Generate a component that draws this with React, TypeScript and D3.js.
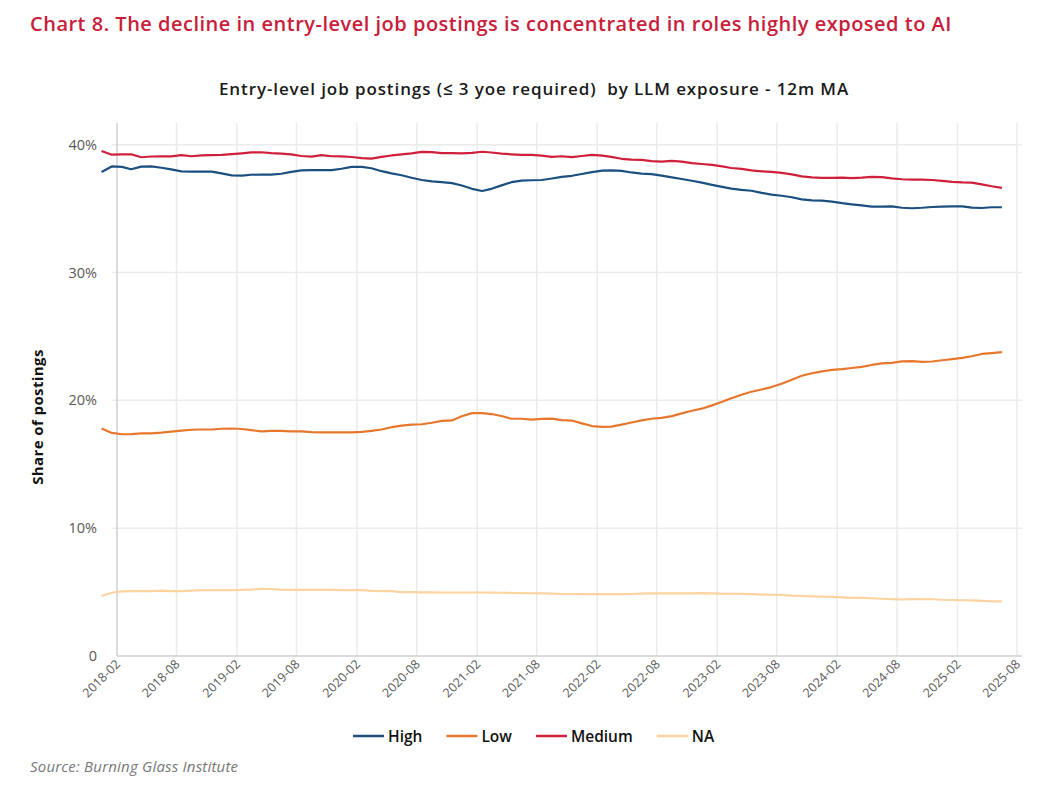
import React, { useEffect, useRef } from "react";
import * as d3 from "d3";

const startMonth = "2017-12";
const highValues = [37.87,38.30,38.27,38.08,38.29,38.31,38.20,38.07,37.92,37.90,37.90,37.90,37.76,37.60,37.58,37.65,37.66,37.66,37.73,37.88,38.00,38.02,38.02,38.02,38.12,38.27,38.27,38.16,37.93,37.76,37.61,37.42,37.24,37.13,37.07,37.00,36.81,36.55,36.38,36.55,36.82,37.07,37.19,37.22,37.24,37.36,37.48,37.57,37.71,37.86,37.97,38.00,37.95,37.83,37.74,37.70,37.58,37.44,37.32,37.18,37.03,36.86,36.70,36.57,36.47,36.40,36.23,36.09,36.01,35.89,35.72,35.65,35.62,35.55,35.43,35.34,35.25,35.16,35.16,35.18,35.07,35.03,35.07,35.13,35.16,35.18,35.18,35.08,35.05,35.11,35.11];
const lowValues = [17.80,17.45,17.35,17.36,17.41,17.42,17.48,17.56,17.63,17.70,17.72,17.72,17.78,17.80,17.76,17.67,17.57,17.62,17.62,17.58,17.57,17.51,17.49,17.49,17.49,17.49,17.54,17.62,17.72,17.90,18.02,18.10,18.13,18.25,18.39,18.43,18.76,19.00,19.00,18.93,18.78,18.56,18.56,18.50,18.55,18.57,18.45,18.42,18.20,17.99,17.93,17.95,18.10,18.27,18.43,18.56,18.63,18.77,18.98,19.19,19.35,19.61,19.89,20.17,20.44,20.67,20.85,21.04,21.30,21.62,21.93,22.12,22.27,22.38,22.44,22.53,22.62,22.77,22.90,22.94,23.05,23.07,23.01,23.04,23.14,23.23,23.32,23.45,23.63,23.70,23.78];
const mediumValues = [39.51,39.22,39.25,39.25,39.02,39.08,39.09,39.09,39.18,39.10,39.16,39.18,39.20,39.27,39.33,39.40,39.41,39.34,39.30,39.25,39.12,39.07,39.18,39.10,39.09,39.04,38.95,38.91,39.05,39.16,39.24,39.32,39.44,39.42,39.34,39.34,39.33,39.36,39.45,39.39,39.31,39.25,39.20,39.20,39.15,39.05,39.10,39.03,39.12,39.20,39.15,39.05,38.90,38.83,38.81,38.72,38.68,38.74,38.68,38.56,38.49,38.42,38.30,38.18,38.11,38.00,37.92,37.88,37.80,37.68,37.53,37.45,37.40,37.40,37.43,37.38,37.42,37.49,37.47,37.37,37.30,37.27,37.27,37.24,37.17,37.10,37.06,37.04,36.90,36.75,36.62];
const naValues = [4.69,4.95,5.05,5.08,5.08,5.08,5.12,5.08,5.08,5.12,5.15,5.15,5.15,5.16,5.17,5.20,5.25,5.24,5.20,5.18,5.18,5.17,5.17,5.17,5.16,5.15,5.15,5.10,5.08,5.08,5.00,5.00,4.98,4.98,4.97,4.97,4.97,4.97,4.97,4.96,4.95,4.93,4.92,4.91,4.90,4.88,4.85,4.85,4.84,4.84,4.84,4.84,4.84,4.85,4.88,4.90,4.90,4.90,4.90,4.90,4.92,4.90,4.87,4.86,4.86,4.84,4.80,4.79,4.78,4.73,4.70,4.67,4.65,4.62,4.58,4.55,4.54,4.52,4.48,4.45,4.42,4.45,4.46,4.44,4.40,4.38,4.36,4.35,4.31,4.28,4.28];

const seriesNames = ["High", "Low", "Medium", "NA"];
const seriesColors = ["#1b4f80", "#e8772e", "#cf1f3b", "#fdd3a0"];
const xTickLabels = ["2018-02","2018-08","2019-02","2019-08","2020-02","2020-08","2021-02","2021-08","2022-02","2022-08","2023-02","2023-08","2024-02","2024-08","2025-02","2025-08"];
const yTickValues = [0, 10, 20, 30, 40];

const titleText = "Chart 8. The decline in entry-level job postings is concentrated in roles highly exposed to AI";
const subtitleText = "Entry-level job postings (\u2264 3 yoe required)  by LLM exposure - 12m MA";
const yAxisTitle = "Share of postings";
const sourceText = "Source: Burning Glass Institute";

const FONT = "'Open Sans', Lato, sans-serif";

export default function App() {
  const ref = useRef<SVGSVGElement | null>(null);

  useEffect(() => {
    const svg = d3.select(ref.current);
    svg.selectAll("*").remove();

    const parse = d3.timeParse("%Y-%m");
    const start = parse(startMonth) as Date;
    const dates = highValues.map((_, i) => new Date(start.getFullYear(), start.getMonth() + i, 16));

    const left = 117, right = 1017, top = 123, bottom = 656;
    const x = d3.scaleTime()
      .domain([parse(xTickLabels[0]) as Date, parse(xTickLabels[xTickLabels.length - 1]) as Date])
      .range([left, right]);
    const y = d3.scaleLinear().domain([0, 41.7]).range([bottom, top]);

    svg.append("rect").attr("width", 1050).attr("height", 789).attr("fill", "#fff");

    // Title
    svg.append("text").attr("x", 30).attr("y", 31)
      .attr("font-family", FONT).attr("font-size", 20).attr("font-weight", 600)
      .attr("letter-spacing", 0.5)
      .attr("fill", "#c8203a").text(titleText);

    svg.append("text").attr("x", 534).attr("y", 95).attr("text-anchor", "middle")
      .attr("font-family", FONT).attr("font-size", 17).attr("font-weight", 600)
      .attr("letter-spacing", 0.9)
      .style("white-space", "pre")
      .attr("fill", "#1a1a1a").text(subtitleText);

    // grid
    const g = svg.append("g");
    g.selectAll("line.hg").data(yTickValues.filter(v => v > 0)).join("line")
      .attr("x1", left - 5).attr("x2", right + 5)
      .attr("y1", d => y(d)).attr("y2", d => y(d))
      .attr("stroke", "#ebebeb").attr("stroke-width", 1.5);

    const tickDates = xTickLabels.map(s => parse(s) as Date);
    g.selectAll("line.vg").data(tickDates.slice(1)).join("line")
      .attr("x1", d => x(d)).attr("x2", d => x(d))
      .attr("y1", top).attr("y2", bottom)
      .attr("stroke", "#ebebeb").attr("stroke-width", 1.5);

    // axes lines
    g.append("line").attr("x1", left).attr("x2", left).attr("y1", top).attr("y2", bottom)
      .attr("stroke", "#cfcfcf").attr("stroke-width", 1.5);
    g.append("line").attr("x1", left).attr("x2", right + 5).attr("y1", bottom).attr("y2", bottom)
      .attr("stroke", "#cfcfcf").attr("stroke-width", 1.5);

    // y tick labels
    g.selectAll("text.yt").data(yTickValues).join("text")
      .attr("x", 97).attr("y", d => y(d) + 5)
      .attr("text-anchor", "end")
      .attr("font-family", FONT).attr("font-size", 14.5).attr("fill", "#595959")
      .text(d => (d === 0 ? "0" : d + "%"));

    // x tick labels
    g.selectAll("text.xt").data(tickDates).join("text")
      .attr("transform", d => `translate(${x(d) + 4},${bottom + 9}) rotate(-45)`)
      .attr("text-anchor", "end")
      .attr("font-family", FONT).attr("font-size", 12.5).attr("fill", "#595959")
      .text((_, i) => xTickLabels[i]);

    // y axis title
    svg.append("text")
      .attr("transform", `translate(43,417) rotate(-90)`)
      .attr("text-anchor", "middle")
      .attr("font-family", FONT).attr("font-size", 15).attr("font-weight", 700)
      .attr("letter-spacing", 0.4)
      .attr("fill", "#111").text(yAxisTitle);

    // lines
    const allSeries = [highValues, lowValues, mediumValues, naValues];
    const line = d3.line<number>()
      .x((_, i) => x(dates[i]))
      .y(d => y(d))
      .curve(d3.curveLinear);
    const drawOrder = [3, 1, 0, 2];
    drawOrder.forEach(k => {
      svg.append("path")
        .attr("d", line(allSeries[k]) as string)
        .attr("fill", "none")
        .attr("stroke", seriesColors[k])
        .attr("stroke-width", 2.2)
        .attr("stroke-linejoin", "round");
    });

    // legend
    const lg = svg.append("g");
    let cx = 353;
    seriesNames.forEach((name, k) => {
      lg.append("line").attr("x1", cx).attr("x2", cx + 31)
        .attr("y1", 736).attr("y2", 736)
        .attr("stroke", seriesColors[k]).attr("stroke-width", 2.5);
      const t = lg.append("text").attr("x", cx + 35).attr("y", 741.5)
        .attr("font-family", FONT).attr("font-size", 15.5).attr("font-weight", 600)
        .attr("fill", "#111").text(name);
      const w = (t.node() as SVGTextElement).getComputedTextLength();
      cx = cx + 35 + w + 24;
    });

    svg.append("text").attr("x", 30).attr("y", 772)
      .attr("font-family", FONT).attr("font-size", 15).attr("font-style", "italic")
      .attr("letter-spacing", 0.2)
      .attr("fill", "#777").text(sourceText);
  }, []);

  return (
    <svg ref={ref} width={1050} height={789}
      style={{ position: "absolute", left: 0, top: 0, display: "block" }} />
  );
}
